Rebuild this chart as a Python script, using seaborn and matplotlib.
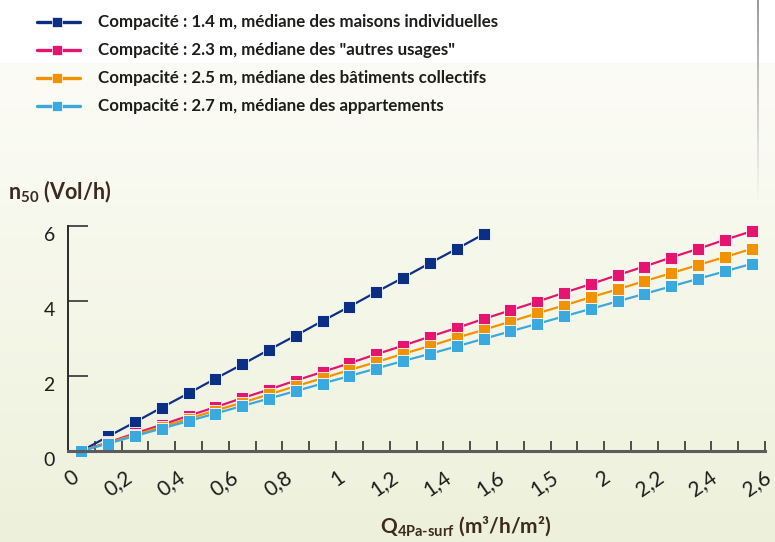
import numpy as np
import pandas as pd
import seaborn as sns
import matplotlib
matplotlib.use("Agg")
import matplotlib.pyplot as plt
from matplotlib.lines import Line2D
from matplotlib.collections import LineCollection
import matplotlib.transforms as mtransforms

# ---- data -------------------------------------------------------------
q_values = [0.0, 0.1, 0.2, 0.3, 0.4, 0.5, 0.6, 0.7, 0.8, 0.9, 1.0, 1.1, 1.2,
            1.3, 1.4, 1.5, 1.6, 1.7, 1.8, 1.9, 2.0, 2.1, 2.2, 2.3, 2.4, 2.5]

n50_maisons = [0.00, 0.39, 0.77, 1.16, 1.54, 1.93, 2.31, 2.70, 3.08, 3.47,
               3.85, 4.24, 4.62, 5.01, 5.39, 5.78]
n50_autres = [0.00, 0.23, 0.47, 0.70, 0.94, 1.17, 1.41, 1.64, 1.88, 2.11,
              2.34, 2.58, 2.81, 3.05, 3.28, 3.52, 3.75, 3.98, 4.22, 4.45,
              4.69, 4.92, 5.16, 5.39, 5.63, 5.86]
n50_collectifs = [0.00, 0.22, 0.43, 0.65, 0.86, 1.08, 1.29, 1.51, 1.73, 1.94,
                  2.16, 2.37, 2.59, 2.80, 3.02, 3.23, 3.45, 3.67, 3.88, 4.10,
                  4.31, 4.53, 4.74, 4.96, 5.17, 5.39]
n50_appartements = [0.00, 0.20, 0.40, 0.60, 0.80, 1.00, 1.20, 1.40, 1.60, 1.80,
                    2.00, 2.20, 2.40, 2.59, 2.79, 2.99, 3.19, 3.39, 3.59, 3.79,
                    3.99, 4.19, 4.39, 4.59, 4.79, 4.99]

series_labels = [
    "Compacité : 1.4 m, médiane des maisons individuelles",
    'Compacité : 2.3 m, médiane des "autres usages"',
    "Compacité : 2.5 m, médiane des bâtiments collectifs",
    "Compacité : 2.7 m, médiane des appartements",
]
series_colors = ["#0c2f86", "#e4146f", "#f39200", "#3aa9de"]

x_tick_labels = ["0", "0,2", "0,4", "0,6", "0,8", "1", "1,2", "1,4", "1,6",
                 "1,5", "2", "2,2", "2,4", "2,6"]
y_ticks = [0, 2, 4, 6]

# ---- style ------------------------------------------------------------
sns.set_theme(style="white")
plt.rcParams["font.family"] = ["Lato", "DejaVu Sans"]
plt.rcParams["mathtext.fontset"] = "custom"
plt.rcParams["mathtext.rm"] = "Lato:bold"
plt.rcParams["mathtext.it"] = "Lato:bold"
plt.rcParams["mathtext.bf"] = "Lato:bold"
plt.rcParams["mathtext.default"] = "rm"

W, H = 775, 542
fig = plt.figure(figsize=(W / 100, H / 100), dpi=100)
fig.patch.set_facecolor("white")


def fx(px):
    return px / W


def fy(py):
    return 1 - py / H


# soft cream-to-green background
bg = fig.add_axes([0, 0, 1, 1], zorder=-10)
rows = np.arange(H)
top_c = np.array([252, 252, 246]) / 255
bot_c = np.array([237, 241, 219]) / 255
t = np.clip((rows - 63) / (H - 63), 0, 1)[:, None]
grad = top_c * (1 - t) + bot_c * t
grad[rows < 63] = 1.0
bg.imshow(np.repeat(grad[:, None, :], 4, axis=1), aspect="auto",
          extent=[0, 1, 0, 1], interpolation="bilinear")
bg.set_axis_off()

# thin fading frame line at top right
ys = np.linspace(0, 200, 60)
segs = [[(fx(758), fy(a)), (fx(758), fy(b))] for a, b in zip(ys[:-1], ys[1:])]
cols = [(0.55, 0.55, 0.55, 0.9 * (1 - a / 200)) for a in ys[:-1]]
fig.add_artist(LineCollection(segs, colors=cols, linewidths=1.4,
                              transform=fig.transFigure))

# ---- main plot --------------------------------------------------------
ax = fig.add_axes([fx(68), fy(451), (765 - 68) / W, (451 - 226) / H])
ax.set_facecolor("none")

frames = []
for label, vals in zip(series_labels,
                       [n50_maisons, n50_autres, n50_collectifs, n50_appartements]):
    frames.append(pd.DataFrame({"Q": q_values[:len(vals)], "n50": vals,
                                "serie": label}))
df = pd.concat(frames, ignore_index=True)

sns.lineplot(data=df, x="Q", y="n50", hue="serie", hue_order=series_labels,
             palette=series_colors, marker="s", markersize=8,
             markeredgecolor="#ffffff", markeredgewidth=0.6, linewidth=1.6,
             estimator=None, sort=False, legend=False, ax=ax)
for ln in ax.lines:
    ln.set_clip_on(False)

ax.set_xlim(q_values[0] - 0.05, q_values[-1] + 0.05)
ax.set_ylim(0, 6)
ax.set_xlabel("")
ax.set_ylabel("")

for s in ("top", "right"):
    ax.spines[s].set_visible(False)
ax.spines["left"].set_color("#2b2b2b")
ax.spines["left"].set_linewidth(1.4)
ax.spines["bottom"].set_color("#5c5c5c")
ax.spines["bottom"].set_linewidth(2.2)

ax.set_yticks(y_ticks)
ax.set_yticklabels([str(v) for v in y_ticks])
ax.tick_params(axis="y", direction="in", length=14.4, width=1.2,
               color="#333333", pad=9.5, labelsize=14, labelcolor="#1d1d1b",
               left=True)
shift = mtransforms.ScaledTranslation(0, -8 / 100, fig.dpi_scale_trans)
for lbl in ax.get_yticklabels():
    lbl.set_transform(lbl.get_transform() + shift)

ax.set_xticks([])
ax.set_xticks([q + 0.05 for q in q_values], minor=True)
ax.tick_params(axis="x", which="minor", direction="in", length=7.2, width=1.2,
               color="#333333", bottom=True)

# rotated labels under the axis, spread evenly along it
label_pos = np.linspace(0, 2.58, len(x_tick_labels))
lab_tr = ax.get_xaxis_transform() + mtransforms.ScaledTranslation(
    1 / 100, -16 / 100, fig.dpi_scale_trans)
for pos, txt in zip(label_pos, x_tick_labels):
    ax.text(pos, 0, txt, transform=lab_tr, rotation=35, ha="right",
            va="top", rotation_mode="default", fontsize=15,
            color="#1d1d1b", clip_on=False)

# axis titles
title_col = "#3d2a1e"
fig.text(fx(8), fy(192), r"$\mathrm{n_{50}}$ (Vol/h)", ha="left",
         va="center", fontsize=15.5, fontweight="bold", color=title_col)
fig.text(fx(466), fy(526), r"$\mathrm{Q_{4Pa\text{-}surf}}$ (m³/h/m²)",
         ha="center", va="center", fontsize=15, fontweight="bold",
         color=title_col)

# ---- legend -----------------------------------------------------------
for i, (label, color) in enumerate(zip(series_labels, series_colors)):
    yy = fy(22 + 27.9 * i)
    fig.add_artist(Line2D([fx(37), fx(80)], [yy, yy], color=color, lw=2.4,
                          transform=fig.transFigure))
    fig.add_artist(Line2D([fx(57)], [yy], color=color, marker="s",
                          markersize=7.5, markeredgecolor="#ffffff",
                          markeredgewidth=0.5, transform=fig.transFigure))
    fig.text(fx(98), yy, label, ha="left", va="center", fontsize=12.2,
             fontweight="bold", color="#1d1d1b")

fig.savefig("out.png", dpi=100)
